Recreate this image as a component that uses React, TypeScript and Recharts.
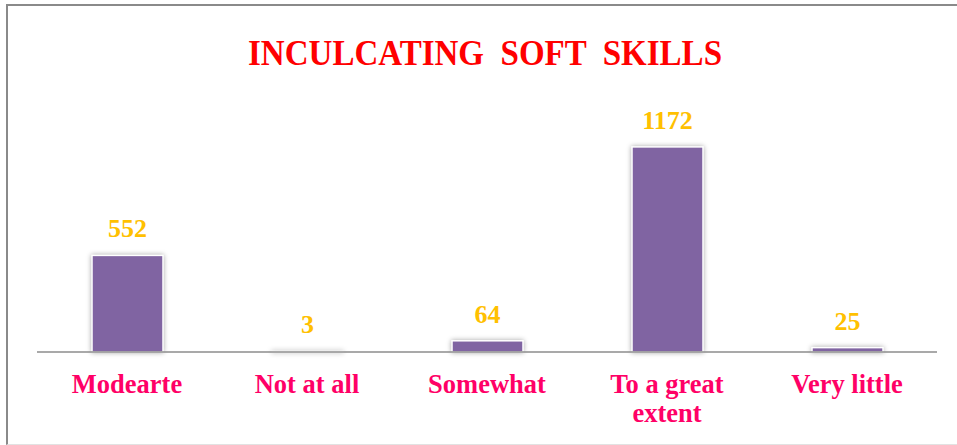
import { BarChart, Bar, XAxis, YAxis, LabelList } from "recharts";

const CATEGORIES = ["Modearte", "Not at all", "Somewhat", "To a great extent", "Very little"];
const RESPONSES = [552, 3, 64, 1172, 25];
const TITLE = "INCULCATING  SOFT  SKILLS";

const data = CATEGORIES.map((name, i) => ({ name, value: RESPONSES[i] }));

const SERIF = "'Liberation Serif', 'Times New Roman', serif";

// split long category names into two lines, like the original
function wrap(label: string, max = 11) {
  const lines: string[] = [];
  let cur = "";
  for (const w of label.split(" ")) {
    const next = cur ? cur + " " + w : w;
    if (next.length > max && cur) {
      lines.push(cur);
      cur = w;
    } else cur = next;
  }
  if (cur) lines.push(cur);
  return lines;
}

function CategoryTick({ x, y, payload }: any) {
  const lines = wrap(String(payload.value));
  return (
    <text
      x={x}
      y={y}
      textAnchor="middle"
      fill="#FF0066"
      fontFamily={SERIF}
      fontWeight="bold"
      fontSize={26.5}
    >
      {lines.map((l, i) => (
        <tspan key={i} x={x} dy={i === 0 ? 33 : 29}>
          {l}
        </tspan>
      ))}
    </text>
  );
}

function ShadowBar({ x, y, width, height, fill }: any) {
  return (
    <rect
      x={x}
      y={y}
      width={width}
      height={Math.max(height, 0)}
      fill={fill}
      stroke="#fff"
      strokeWidth={1.5}
      style={{ filter: "drop-shadow(0px 0px 2.5px rgba(0,0,0,0.35))" }}
    />
  );
}

export default function App() {
  return (
    <div style={{ position: "relative", width: 957, height: 445, background: "#fff", overflow: "hidden" }}>
      <style>{`body{margin:0}`}</style>
      {/* frame */}
      <div
        style={{
          position: "absolute",
          left: 6,
          top: 4,
          width: 980,
          height: 438,
          borderLeft: "2px solid #8a8a8a",
          borderTop: "2px solid #8a8a8a",
          borderBottom: "1px solid #e2e2e2",
        }}
      />
      <svg width={957} height={90} style={{ position: "absolute", left: 0, top: 0 }}>
        <text
          x={485}
          y={65}
          textAnchor="middle"
          fill="#FF0000"
          fontFamily={SERIF}
          fontWeight="bold"
          fontSize={36}
          textLength={474}
          lengthAdjust="spacingAndGlyphs"
          style={{ whiteSpace: "pre" }}
        >
          {TITLE}
        </text>
      </svg>
      <div style={{ position: "absolute", left: 0, top: 0 }}>
        <BarChart
          width={957}
          height={445}
          data={data}
          margin={{ top: 107, right: 20, left: 37, bottom: 33 }}
        >
          <YAxis hide domain={[0, 1400]} />
          <XAxis
            dataKey="name"
            height={60}
            axisLine={{ stroke: "#8c8c8c", strokeWidth: 1.5 }}
            tickLine={false}
            interval={0}
            tick={<CategoryTick />}
          />
          <Bar dataKey="value" fill="#8064A2" barSize={71} shape={<ShadowBar />} isAnimationActive={false}>
            <LabelList
              dataKey="value"
              position="top"
              offset={18}
              fill="#FFC000"
              fontFamily={SERIF}
              fontWeight="bold"
              fontSize={26}
            />
          </Bar>
        </BarChart>
      </div>
    </div>
  );
}
